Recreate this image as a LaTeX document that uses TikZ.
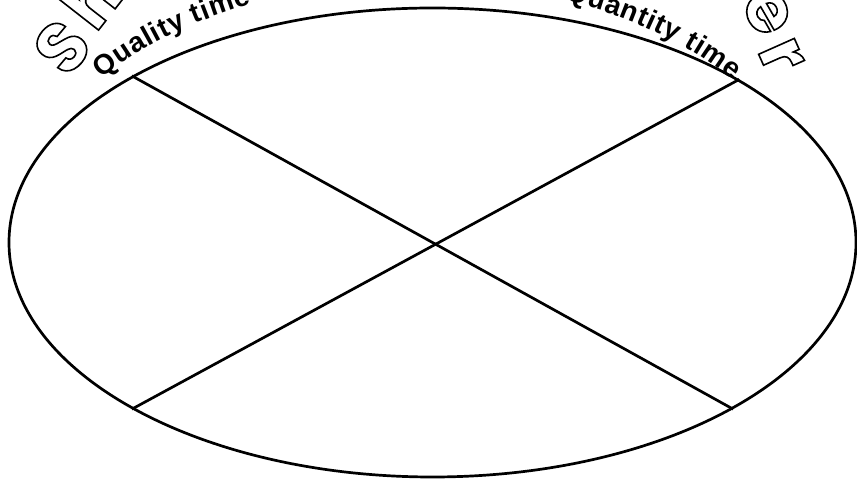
\documentclass[tikz,border=0pt]{standalone}
\usepackage{fontspec}
\setmainfont{Liberation Sans}
\newfontfamily\lblbold{Liberation Sans Bold}
\newfontfamily\bigfont{Poppins}
\usetikzlibrary{shapes.geometric,decorations.text,calc}
\newcommand\lblstyle{\lblbold\fontsize{28pt}{28pt}\selectfont}
\newcommand\outl[1]{\special{pdf:literal direct q 1 Tr 1.6 w}#1\special{pdf:literal direct Q}}
\begin{document}
\begin{tikzpicture}[x=1pt,y=1pt,
  ln/.style={line width=2.7pt, draw=black},
  big/.style={font=\bigfont\bfseries\fontsize{70pt}{70pt}\selectfont, inner sep=0pt}]
\useasboundingbox (0,0) rectangle (857,481);
% big outlined letters
\node[big, rotate=50] (bs) at (62,434) {\outl{S}};
\node[big, rotate=52] (bh) at (90,482) {\outl{h}};
\node[big, rotate=-60] (be) at (767,469) {\outl{e}};
\node[big, rotate=-66] (br) at (781,425) {\outl{r}};
% main oval
\node[ellipse, ln, minimum width=847pt, minimum height=469pt, inner sep=0pt] (oval) at (432.5,238.5) {};
\draw[ln] (oval.151) -- (oval.331.3);
\draw[ln] (oval.209) -- (oval.28.7);
% arched labels
\coordinate (tc) at (416,238.5);
\coordinate (qs) at ($(tc)+(141:405pt and 261pt)$);
\coordinate (ns) at ($(tc)+(68.5:405pt and 261pt)$);
\path[decorate, decoration={text along path, text={|\lblstyle|Quality time}, text align=fit to path}]
  (qs) arc[start angle=141, end angle=114, x radius=405pt, y radius=261pt];
\path[decorate, decoration={text along path, text={|\lblstyle|Quantity time}, text align=fit to path}]
  (ns) arc[start angle=68.5, end angle=38.5, x radius=405pt, y radius=261pt];
\end{tikzpicture}
\end{document}
